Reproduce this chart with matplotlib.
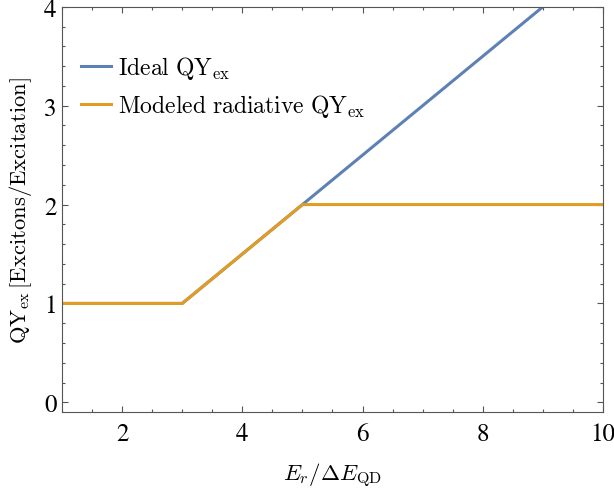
import numpy as np
import matplotlib
matplotlib.use('Agg')
import matplotlib.pyplot as plt
from matplotlib.ticker import MultipleLocator
from matplotlib.font_manager import FontProperties

plt.rcParams['font.family'] = 'STIXGeneral'
plt.rcParams['mathtext.fontset'] = 'stix'

# data
x_ideal = [1, 3, 10]
qy_ideal = [1, 1, 4.5]
x_model = [1, 3, 5, 10]
qy_model = [1, 1, 2, 2]

fig = plt.figure(figsize=(6.14, 4.89), dpi=100)
ax = fig.add_axes([0.101, 0.155, 0.881, 0.829])

ax.plot(x_ideal, qy_ideal, color='#5E81B5', lw=2.2,
        label=r'$\mathrm{Ideal\ QY}_{\mathrm{ex}}$')
ax.plot(x_model, qy_model, color='#E19C24', lw=2.2,
        label=r'$\mathrm{Modeled\ radiative\ QY}_{\mathrm{ex}}$')

ax.set_xlim(1, 10)
ax.set_ylim(-0.1, 4)
ax.xaxis.set_major_locator(MultipleLocator(2))
ax.xaxis.set_minor_locator(MultipleLocator(0.5))
ax.yaxis.set_major_locator(MultipleLocator(1))
ax.yaxis.set_minor_locator(MultipleLocator(0.2))
ax.tick_params(which='both', direction='in', top=True, right=True, color='#555555', labelsize=18)
ax.tick_params(which='major', length=4.5, width=0.8)
ax.tick_params(which='minor', length=2.5, width=0.8)
ax.tick_params(axis='x', pad=7)
ax.tick_params(axis='y', pad=4)
for s in ax.spines.values():
    s.set_color('#555555')

ax.set_xlabel(r'$E_r/\Delta E_{\mathrm{QD}}$', fontsize=16.5, labelpad=11, math_fontfamily='cm')
ax.set_ylabel(r'$\mathrm{QY}_{\mathrm{ex}}\,[\mathrm{Excitons/Excitation}]$', fontsize=16.3,
              labelpad=7, math_fontfamily='cm')

ax.legend(loc='upper left', frameon=False, handlelength=1.3,
          prop=FontProperties(size=17, math_fontfamily='cm'),
          handletextpad=0.3, bbox_to_anchor=(-0.005, 0.935), labelspacing=0.45)

fig.savefig('out.png', dpi=100)
